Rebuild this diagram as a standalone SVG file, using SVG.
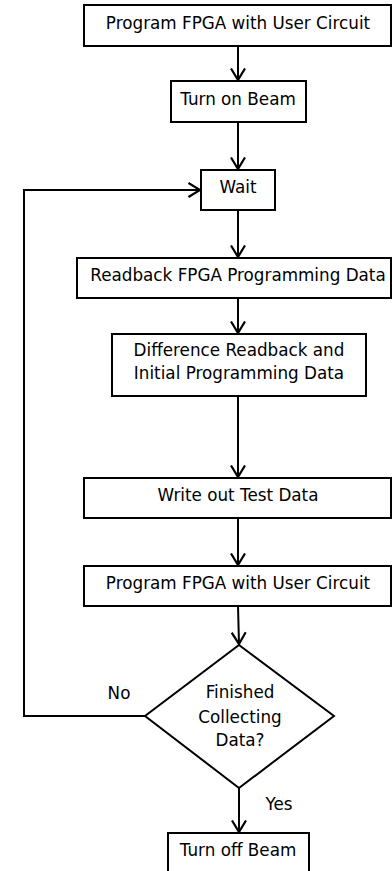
<svg xmlns="http://www.w3.org/2000/svg" width="392" height="871" viewBox="0 0 392 871">
<style>
.box{fill:#fff;stroke:#000;stroke-width:2}
.t{font-family:"DejaVu Sans",sans-serif;font-size:16.8px;fill:#000;text-anchor:middle}
.c{fill:none;stroke:#000;stroke-width:2}
</style>
<defs>
<marker id="a" viewBox="0 0 14 16" refX="12.5" refY="8" markerWidth="14" markerHeight="16" markerUnits="userSpaceOnUse" orient="auto">
<path d="M1,1 L12.5,8 L1,15" fill="none" stroke="#000" stroke-width="2.2"/>
</marker>
</defs>
<g id="connectors">
<line class="c" x1="238" y1="46" x2="238" y2="80" marker-end="url(#a)"/>
<line class="c" x1="238" y1="122" x2="238" y2="169" marker-end="url(#a)"/>
<line class="c" x1="238" y1="210" x2="238" y2="257" marker-end="url(#a)"/>
<line class="c" x1="238" y1="298" x2="238" y2="333" marker-end="url(#a)"/>
<line class="c" x1="238" y1="396" x2="238" y2="477" marker-end="url(#a)"/>
<line class="c" x1="238" y1="518" x2="238" y2="565" marker-end="url(#a)"/>
<line class="c" x1="238" y1="606" x2="239" y2="644" marker-end="url(#a)"/>
<line class="c" x1="239" y1="788" x2="239" y2="832" marker-end="url(#a)"/>
<polyline class="c" points="145,716 24,716 24,190 200,190" marker-end="url(#a)"/>
<text class="t" x="119" y="699">No</text>
<text class="t" x="279" y="810">Yes</text>
</g>
<g id="n1"><rect class="box" x="84" y="5" width="307" height="41"/><text class="t" x="238" y="29">Program FPGA with User Circuit</text></g>
<g id="n2"><rect class="box" x="171" y="81" width="135" height="41"/><text class="t" x="238" y="105">Turn on Beam</text></g>
<g id="n3"><rect class="box" x="201" y="170" width="74" height="40"/><text class="t" x="238" y="193">Wait</text></g>
<g id="n4"><rect class="box" x="77" y="258" width="314" height="40"/><text class="t" x="238" y="281">Readback FPGA Programming Data</text></g>
<g id="n5"><rect class="box" x="112" y="334" width="254" height="62"/><text class="t" x="239" y="356">Difference Readback and</text><text class="t" x="239" y="379">Initial Programming Data</text></g>
<g id="n6"><rect class="box" x="84" y="478" width="307" height="40"/><text class="t" x="238" y="501">Write out Test Data</text></g>
<g id="n7"><rect class="box" x="84" y="566" width="307" height="40"/><text class="t" x="238" y="589">Program FPGA with User Circuit</text></g>
<g id="n8"><polygon class="box" points="239,645 334,716 239,788 145,716"/><text class="t" x="240" y="698">Finished</text><text class="t" x="240" y="723">Collecting</text><text class="t" x="240" y="746">Data?</text></g>
<g id="n9"><rect class="box" x="168" y="833" width="141" height="42"/><text class="t" x="238" y="856">Turn off Beam</text></g>
</svg>
